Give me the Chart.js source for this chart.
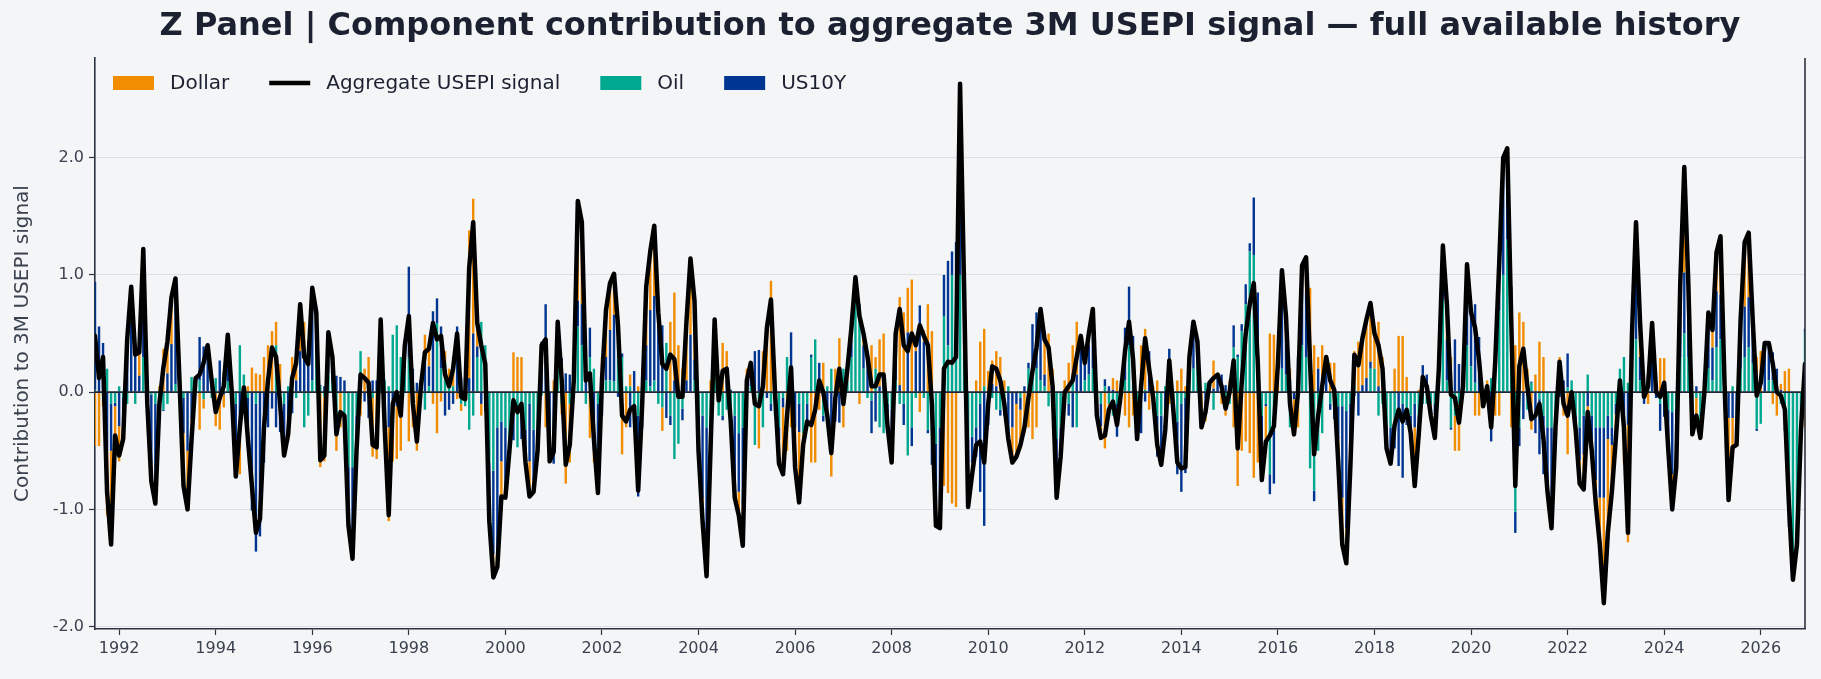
<!DOCTYPE html>
<html>
<head>
<meta charset="utf-8">
<title>Z Panel - USEPI component contributions</title>
<script src="https://cdn.jsdelivr.net/npm/chart.js"></script>
<style>
    html, body { margin: 0; padding: 0; background: #f4f5f7; }
    #panelWrap { width: 1821px; height: 679px; }
</style>
</head>
<body>
<div id="panelWrap"><canvas id="zPanelChart" width="1821" height="679"></canvas></div>
<script>
// Z Panel - component contribution to the aggregate 3M USEPI signal
// monthly history, first observation is June 1991 (one row = 12 months)

const firstMonth = '1991-06';

const aggregateSignal = [
    0.48, 0.12, 0.3, -0.85, -1.3, -0.37, -0.54, -0.4, 0.45, 0.9, 0.32, 0.34,
    1.22, -0.1, -0.76, -0.95, -0.1, 0.21, 0.43, 0.81, 0.97, 0.1, -0.8, -1.0,
    -0.4, 0.12, 0.15, 0.25, 0.4, 0.1, -0.17, -0.05, 0.05, 0.49, 0.0, -0.72,
    -0.3, 0.04, -0.4, -0.8, -1.2, -1.08, -0.3, 0.1, 0.38, 0.3, -0.1, -0.54,
    -0.36, 0.12, 0.25, 0.75, 0.3, 0.24, 0.89, 0.68, -0.58, -0.54, 0.51, 0.3,
    -0.36, -0.17, -0.2, -1.14, -1.42, -0.5, 0.15, 0.12, 0.08, -0.45, -0.47, 0.62,
    -0.3, -1.05, -0.1, 0.0, -0.2, 0.4, 0.65, -0.1, -0.42, 0.05, 0.34, 0.37,
    0.59, 0.45, 0.48, 0.15, 0.05, 0.2, 0.5, -0.04, -0.06, 1.06, 1.45, 0.59,
    0.4, 0.24, -1.1, -1.58, -1.49, -0.89, -0.9, -0.5, -0.07, -0.17, -0.1, -0.6,
    -0.89, -0.85, -0.5, 0.4, 0.45, -0.59, -0.51, 0.6, 0.1, -0.62, -0.45, 0.1,
    1.63, 1.45, 0.1, 0.16, -0.4, -0.86, 0.1, 0.7, 0.93, 1.01, 0.56, -0.2,
    -0.25, -0.15, -0.12, -0.84, -0.1, 0.9, 1.2, 1.42, 0.68, 0.24, 0.2, 0.32,
    0.28, -0.04, -0.04, 0.6, 1.14, 0.78, -0.5, -1.1, -1.57, -0.47, 0.62, -0.07,
    0.18, 0.2, -0.25, -0.9, -1.05, -1.31, 0.1, 0.25, -0.1, -0.12, 0.05, 0.55,
    0.79, 0.0, -0.61, -0.7, -0.2, 0.21, -0.64, -0.94, -0.45, -0.25, -0.28, -0.15,
    0.1, 0.0, -0.2, -0.52, -0.05, 0.2, -0.1, 0.2, 0.55, 0.98, 0.65, 0.5,
    0.3, 0.05, 0.05, 0.15, 0.15, -0.3, -0.6, 0.5, 0.71, 0.4, 0.35, 0.5,
    0.4, 0.57, 0.48, 0.4, -0.1, -1.14, -1.16, 0.2, 0.26, 0.25, 0.3, 2.63,
    0.9, -0.98, -0.7, -0.45, -0.42, -0.6, -0.1, 0.22, 0.2, 0.1, -0.1, -0.4,
    -0.6, -0.55, -0.45, -0.3, -0.05, 0.18, 0.38, 0.71, 0.45, 0.38, 0.05, -0.9,
    -0.55, 0.0, 0.05, 0.1, 0.3, 0.48, 0.25, 0.5, 0.71, -0.2, -0.39, -0.37,
    -0.15, -0.08, -0.28, 0.0, 0.35, 0.6, 0.28, -0.4, 0.05, 0.46, 0.2, -0.05,
    -0.45, -0.62, -0.32, 0.27, -0.15, -0.6, -0.65, -0.64, 0.3, 0.6, 0.43, -0.3,
    -0.17, 0.08, 0.12, 0.15, 0.05, -0.14, 0.0, 0.27, -0.48, 0.08, 0.5, 0.75,
    0.93, 0.25, -0.75, -0.42, -0.37, -0.29, 0.24, 1.04, 0.65, -0.1, -0.36, 0.0,
    1.08, 1.15, 0.24, -0.53, -0.2, 0.05, 0.3, 0.1, 0.02, -0.6, -1.3, -1.46,
    -0.64, 0.32, 0.23, 0.46, 0.62, 0.76, 0.5, 0.4, 0.2, -0.48, -0.61, -0.28,
    -0.15, -0.25, -0.15, -0.35, -0.8, -0.36, 0.13, 0.05, -0.2, -0.39, 0.2, 1.25,
    0.75, -0.02, -0.05, -0.26, 0.05, 1.09, 0.68, 0.55, 0.27, -0.12, 0.05, -0.3,
    0.25, 1.1, 2.0, 2.08, 0.6, -0.8, 0.22, 0.37, 0.05, -0.23, -0.2, -0.1,
    -0.4, -0.85, -1.16, -0.29, 0.26, -0.1, -0.2, 0.0, -0.32, -0.78, -0.83, -0.17,
    -0.5, -0.95, -1.3, -1.8, -1.2, -0.85, -0.39, 0.1, -0.3, -1.2, 0.5, 1.45,
    0.6, -0.04, 0.05, 0.59, 0.0, -0.04, 0.08, -0.48, -1.0, -0.64, 0.93, 1.92,
    0.93, -0.36, -0.2, -0.39, 0.0, 0.68, 0.53, 1.19, 1.33, 0.08, -0.92, -0.47,
    -0.45, 0.62, 1.28, 1.36, 0.62, -0.03, 0.08, 0.42, 0.42, 0.24, 0.0, -0.03,
    -0.15, -0.95, -1.6, -1.3, -0.32, 0.24
];

const dollarContrib = [
    -0.46, -0.46, -0.05, -0.55, -0.8, -0.25, -0.3, -0.15, 0.1, 0.3, 0.1, 0.2,
    0.35, 0.1, -0.15, -0.2, 0.05, 0.37, 0.37, 0.4, 0.2, 0.0, -0.45, -0.5,
    -0.3, 0.0, -0.32, -0.08, 0.05, 0.05, -0.28, -0.32, -0.11, 0.1, 0.0, -0.3,
    -0.4, -0.1, 0.05, 0.21, 0.16, 0.15, 0.3, 0.3, 0.52, 0.2, 0.24, 0.0,
    -0.1, 0.15, 0.2, 0.4, 0.3, 0.1, 0.1, 0.05, -0.64, -0.55, 0.0, 0.05,
    -0.2, -0.3, 0.0, 0.0, 0.0, -0.1, -0.2, 0.2, 0.3, -0.5, -0.57, 0.0,
    -0.3, -0.8, -0.5, -0.45, -0.5, 0.0, -0.42, -0.3, -0.5, 0.0, 0.2, 0.15,
    -0.1, -0.35, -0.08, 0.1, 0.1, 0.25, -0.06, -0.06, 0.0, 1.26, 1.15, 0.2,
    -0.1, 0.0, -0.1, -0.2, -0.15, -0.3, -0.1, 0.0, 0.34, 0.3, 0.3, -0.1,
    -0.3, -0.1, 0.0, 0.0, -0.3, -0.1, 0.1, 0.1, -0.1, -0.78, -0.5, 0.1,
    0.85, 0.7, 0.1, -0.39, -0.1, -0.3, 0.3, 0.4, 0.4, 0.35, 0.0, -0.53,
    -0.3, 0.1, 0.0, 0.05, 0.1, 0.5, 0.5, 0.6, 0.1, -0.2, 0.0, 0.6,
    0.75, 0.4, 0.2, 0.5, 0.65, 0.5, -0.1, -0.2, -0.3, 0.1, 0.15, 0.1,
    0.42, 0.25, -0.12, -0.1, -0.2, -0.35, 0.1, 0.1, 0.0, -0.38, 0.3, 0.6,
    0.95, 0.2, -0.2, -0.57, -0.5, -0.3, -0.34, -0.6, -0.1, 0.0, -0.6, -0.6,
    -0.15, 0.25, -0.1, -0.4, 0.2, 0.46, -0.3, 0.1, 0.1, 0.0, -0.1, 0.1,
    0.1, 0.4, 0.1, 0.4, 0.35, 0.0, -0.1, 0.2, 0.75, 0.68, 0.38, 0.96,
    0.1, -0.17, 0.1, 0.75, 0.52, -0.2, -0.2, -0.8, -0.86, -0.95, -0.98, 0.3,
    0.2, -0.3, -0.1, 0.1, 0.43, 0.49, 0.18, 0.2, 0.3, 0.3, 0.1, -0.1,
    -0.3, -0.45, -0.3, -0.35, -0.3, -0.4, -0.3, 0.1, 0.3, 0.5, 0.2, 0.0,
    0.0, 0.1, 0.25, 0.3, 0.45, 0.1, 0.0, 0.1, 0.1, -0.1, -0.1, -0.48,
    -0.1, 0.1, 0.1, -0.1, -0.2, -0.3, -0.2, 0.0, 0.4, 0.52, -0.15, 0.05,
    0.1, 0.0, 0.0, -0.1, -0.05, 0.1, 0.2, 0.05, 0.1, 0.1, 0.1, -0.3,
    -0.1, 0.0, 0.24, 0.0, -0.1, -0.15, 0.05, -0.3, -0.8, -0.5, -0.42, -0.52,
    -0.73, -0.6, -0.3, -0.3, 0.5, 0.49, 0.24, 0.3, 0.2, 0.1, -0.3, -0.3,
    0.1, 0.3, 0.75, 0.4, 0.1, 0.32, 0.0, 0.25, 0.25, -0.2, -0.4, -0.3,
    -0.2, 0.3, 0.43, 0.4, 0.5, 0.5, 0.3, 0.55, 0.3, 0.0, 0.0, 0.2,
    0.48, 0.48, 0.13, 0.0, -0.5, 0.02, 0.0, 0.0, -0.1, -0.2, 0.0, 0.0,
    0.3, 0.3, -0.3, -0.4, 0.0, 0.1, 0.0, -0.2, -0.2, 0.0, 0.1, 0.0,
    -0.2, -0.2, 0.0, 0.0, -0.3, 0.4, 0.68, 0.6, 0.2, -0.32, 0.15, 0.43,
    0.3, 0.0, -0.1, 0.0, 0.3, -0.2, -0.53, -0.1, 0.0, -0.2, -0.3, -0.2,
    -0.1, -0.2, -0.4, -0.9, -0.8, -0.4, -0.2, -0.1, -0.3, -1.0, 0.1, 0.5,
    0.3, 0.0, -0.1, 0.25, 0.05, 0.29, 0.29, -0.1, -0.3, -0.2, 0.2, 0.9,
    0.3, 0.0, -0.2, -0.1, 0.0, 0.1, 0.15, 0.33, 0.5, 0.1, -0.7, -0.3,
    -0.2, 0.2, 0.55, 0.55, 0.0, 0.3, 0.35, 0.0, 0.0, -0.1, -0.2, 0.05,
    0.18, 0.2, 0.0, 0.0, 0.0, -0.3
];

const oilContrib = [
    0.02, 0.0, -0.07, 0.2, -0.1, -0.09, 0.05, -0.05, -0.1, 0.0, -0.1, 0.0,
    0.3, -0.05, -0.02, -0.1, -0.1, -0.15, -0.1, 0.0, 0.07, 0.05, -0.05, 0.0,
    0.13, 0.0, 0.1, -0.06, 0.0, -0.05, 0.12, 0.0, 0.18, 0.09, 0.05, -0.1,
    0.4, 0.15, -0.05, 0.0, -0.1, 0.0, 0.0, 0.1, 0.0, 0.4, -0.1, -0.1,
    0.05, 0.15, -0.05, 0.0, -0.3, -0.2, 0.1, 0.33, 0.05, -0.04, 0.16, 0.08,
    -0.3, 0.0, -0.3, -0.64, -0.64, -0.2, 0.35, 0.0, -0.05, -0.05, 0.0, 0.5,
    0.1, 0.05, 0.49, 0.57, 0.3, 0.2, 0.3, 0.05, 0.0, -0.05, -0.15, 0.05,
    0.0, 0.59, 0.2, 0.25, 0.1, 0.05, 0.0, -0.1, -0.12, -0.32, -0.2, 0.3,
    0.6, 0.4, -0.6, -0.67, -0.3, -0.25, -0.3, -0.4, -0.1, -0.47, -0.1, -0.32,
    -0.1, -0.32, -0.3, -0.03, 0.0, 0.0, 0.0, 0.2, -0.09, 0.0, -0.1, 0.0,
    0.56, 0.4, -0.1, 0.3, 0.2, -0.1, -0.1, 0.1, 0.1, 0.09, 0.6, 0.3,
    0.05, 0.05, -0.3, -0.2, 0.1, 0.1, 0.05, 0.1, -0.1, -0.13, 0.42, -0.2,
    -0.57, -0.44, -0.14, 0.0, 0.0, 0.1, -0.2, -0.2, -0.3, -0.25, 0.15, -0.2,
    -0.2, -0.15, -0.15, -0.2, -0.35, -0.3, 0.1, 0.05, -0.45, -0.1, -0.3, 0.0,
    -0.1, -0.2, -0.3, -0.05, 0.3, 0.1, 0.0, -0.1, -0.35, -0.1, 0.3, 0.45,
    0.05, -0.2, 0.05, 0.2, 0.0, 0.0, 0.2, 0.1, 0.3, 0.78, 0.7, 0.2,
    -0.05, -0.07, 0.2, -0.3, -0.35, -0.1, -0.15, 0.1, -0.1, -0.1, -0.54, -0.3,
    -0.05, 0.0, -0.05, -0.32, -0.4, -0.44, -0.3, 0.65, 0.4, 1.0, 0.9, 1.0,
    0.4, -0.4, -0.38, -0.3, -0.1, 0.05, 0.0, -0.05, -0.15, -0.15, -0.05, 0.05,
    0.0, 0.0, -0.05, 0.0, 0.2, 0.2, 0.2, 0.1, 0.05, -0.12, -0.15, -0.4,
    -0.3, -0.1, -0.1, 0.1, -0.3, 0.0, 0.1, 0.15, 0.2, -0.07, -0.1, 0.05,
    -0.1, -0.2, -0.1, 0.05, 0.1, 0.4, 0.1, -0.1, -0.05, 0.02, 0.0, 0.0,
    -0.2, -0.2, 0.05, 0.0, -0.1, -0.25, -0.1, -0.05, 0.1, 0.2, 0.3, 0.0,
    0.08, 0.0, -0.15, 0.0, 0.0, -0.05, -0.1, 0.38, 0.3, 0.52, 0.75, 1.2,
    1.17, 0.3, -0.2, -0.1, -0.7, -0.2, 0.0, 0.2, 0.15, -0.3, 0.0, 0.2,
    0.4, 0.3, -0.65, -0.84, -0.5, -0.35, 0.0, -0.1, -0.15, -0.12, -0.12, -0.16,
    -0.1, 0.05, 0.0, 0.0, 0.0, 0.2, 0.2, -0.2, -0.1, -0.28, -0.3, -0.28,
    0.0, -0.1, -0.2, -0.2, -0.1, -0.2, -0.1, -0.1, -0.1, -0.1, 0.1, 0.78,
    0.1, -0.3, -0.2, -0.1, 0.0, 0.4, 0.22, 0.08, 0.0, 0.0, -0.05, 0.12,
    0.2, 0.7, 1.0, 1.3, 0.5, -1.02, -0.3, 0.0, -0.15, 0.08, 0.0, -0.06,
    -0.2, -0.3, -0.3, -0.3, 0.0, 0.0, 0.04, 0.1, -0.2, -0.3, -0.2, 0.15,
    -0.2, -0.3, -0.3, -0.3, -0.2, -0.3, -0.1, 0.2, 0.3, 0.08, 0.2, 0.45,
    0.1, 0.06, 0.1, 0.0, 0.0, -0.1, -0.05, -0.15, -0.17, -0.14, 0.3, 0.5,
    0.3, -0.17, -0.05, -0.3, 0.05, 0.2, 0.1, 0.38, 0.45, 0.1, 0.0, 0.05,
    0.0, 0.2, 0.3, 0.38, 0.25, -0.31, -0.27, 0.0, 0.1, 0.1, 0.0, -0.1,
    -0.3, -1.0, -1.35, -1.1, -0.32, 0.51
];

const us10yContrib = [
    0.92, 0.56, 0.42, -0.5, -0.4, -0.03, -0.29, -0.2, 0.45, 0.6, 0.32, 0.14,
    0.57, -0.15, -0.59, -0.65, -0.05, -0.01, 0.16, 0.41, 0.7, 0.05, -0.3, -0.5,
    -0.23, 0.12, 0.37, 0.39, 0.35, 0.1, -0.01, 0.27, -0.02, 0.3, -0.05, -0.32,
    -0.3, -0.01, -0.4, -1.01, -1.26, -1.23, -0.6, -0.3, -0.14, -0.3, -0.24, -0.44,
    -0.31, -0.18, 0.1, 0.35, 0.3, 0.34, 0.69, 0.3, 0.01, 0.05, 0.35, 0.17,
    0.14, 0.13, 0.1, -0.5, -0.78, -0.2, 0.0, -0.08, -0.17, 0.1, 0.1, 0.12,
    -0.1, -0.3, -0.09, -0.12, 0.0, 0.2, 0.77, 0.15, 0.08, 0.1, 0.29, 0.17,
    0.69, 0.21, 0.36, -0.2, -0.15, -0.1, 0.56, 0.12, 0.06, 0.12, 0.5, 0.09,
    -0.1, -0.16, -0.4, -0.71, -1.04, -0.34, -0.5, -0.1, -0.31, 0.0, -0.3, -0.18,
    -0.49, -0.43, -0.2, 0.43, 0.75, -0.49, -0.61, 0.3, 0.29, 0.16, 0.15, 0.0,
    0.22, 0.35, 0.1, 0.25, -0.5, -0.46, -0.1, 0.2, 0.43, 0.57, -0.04, 0.03,
    0.0, -0.3, 0.18, -0.69, -0.3, 0.3, 0.65, 0.72, 0.68, 0.57, -0.22, -0.08,
    0.1, 0.0, -0.1, 0.1, 0.49, 0.18, -0.2, -0.7, -0.97, -0.32, 0.32, 0.03,
    -0.04, 0.1, 0.02, -0.6, -0.5, -0.66, -0.1, 0.1, 0.35, 0.36, 0.05, -0.05,
    -0.06, 0.0, -0.11, -0.08, 0.0, 0.41, -0.3, -0.24, 0.0, -0.15, 0.02, 0.0,
    0.2, -0.05, -0.15, -0.32, -0.25, -0.26, 0.0, 0.0, 0.15, 0.2, 0.05, 0.2,
    0.25, -0.28, -0.25, 0.05, 0.15, -0.2, -0.35, 0.2, 0.06, -0.18, 0.51, -0.16,
    0.35, 0.74, 0.43, -0.03, -0.22, -0.5, -0.66, 0.35, 0.72, 0.2, 0.38, 1.33,
    0.3, -0.28, -0.22, -0.25, -0.75, -1.14, -0.28, 0.07, 0.05, -0.05, -0.15, -0.35,
    -0.3, -0.1, -0.1, 0.05, 0.05, 0.38, 0.48, 0.51, 0.1, 0.0, 0.0, -0.5,
    -0.25, 0.0, -0.1, -0.3, 0.15, 0.38, 0.15, 0.25, 0.41, -0.03, -0.19, 0.06,
    0.05, 0.02, -0.28, 0.05, 0.45, 0.5, 0.38, -0.3, -0.3, -0.08, 0.35, -0.1,
    -0.35, -0.42, -0.37, 0.37, 0.0, -0.45, -0.75, -0.64, 0.1, 0.3, 0.03, 0.0,
    -0.15, 0.08, 0.03, 0.15, 0.15, 0.06, 0.05, 0.19, 0.02, 0.06, 0.17, 0.07,
    0.49, 0.55, -0.25, -0.02, -0.17, -0.58, 0.0, 0.54, 0.3, 0.1, -0.06, 0.1,
    0.58, 0.55, 0.14, -0.09, 0.2, 0.08, 0.3, -0.05, -0.08, -0.28, -0.78, -1.0,
    -0.34, -0.03, -0.2, 0.06, 0.12, 0.06, 0.0, 0.05, 0.0, -0.2, -0.31, -0.2,
    -0.63, -0.63, -0.08, -0.15, -0.2, -0.18, 0.23, 0.15, 0.0, -0.09, 0.1, 0.47,
    0.35, -0.02, 0.45, 0.24, 0.05, 0.59, 0.46, 0.67, 0.47, -0.12, 0.0, -0.42,
    0.25, 0.6, 1.0, 0.78, 0.4, -0.18, -0.16, -0.23, 0.0, 0.01, -0.35, -0.47,
    -0.5, -0.55, -0.76, 0.01, -0.04, 0.1, 0.29, 0.0, -0.12, -0.28, -0.33, -0.12,
    -0.2, -0.45, -0.6, -0.6, -0.2, -0.15, -0.09, 0.0, -0.3, -0.28, 0.2, 0.5,
    0.2, -0.1, 0.05, 0.34, -0.05, -0.23, -0.16, -0.23, -0.53, -0.3, 0.43, 0.52,
    0.33, -0.19, 0.05, 0.01, -0.05, 0.38, 0.28, 0.48, 0.38, -0.12, -0.22, -0.22,
    -0.25, 0.22, 0.43, 0.43, 0.37, -0.02, 0.0, 0.42, 0.32, 0.24, 0.2, 0.02,
    -0.03, -0.15, -0.25, -0.2, 0.0, 0.03
];

// axis ticks
const yearTicks = [1992, 1994, 1996, 1998, 2000, 2002, 2004, 2006, 2008, 2010,
                   2012, 2014, 2016, 2018, 2020, 2022, 2024, 2026];
const signalTicks = [-2, -1, 0, 1, 2];

const legendOrder = ['Dollar', 'Aggregate USEPI signal', 'Oil', 'US10Y'];

const titleText = 'Z Panel | Component contribution to aggregate 3M USEPI signal \u2014 full available history';

const colors = {
    dollar: '#f28c00',
    oil: '#00a88f',
    us10y: '#003591',
    aggregate: '#000000',
    spine: '#2b3240',
    grid: '#dcdfe4',
    text: '#3a4250',
    title: '#1b2130'
};

// month labels and their position in decimal years (month end)
const months = aggregateSignal.map(function(_, i) {
    const start = firstMonth.split('-').map(Number);
    const m = start[1] - 1 + i;
    return (start[0] + Math.floor(m / 12)) + '-' + String(m % 12 + 1).padStart(2, '0');
});

function monthToYear(label) {
    const parts = label.split('-').map(Number);
    return parts[0] + parts[1] / 12;
}

function toPoints(values) {
    return values.map(function(v, i) {
        return { x: monthToYear(months[i]), y: v };
    });
}

Chart.defaults.font.family = '"DejaVu Sans", Verdana, sans-serif';
Chart.defaults.color = colors.text;

// title, custom legend, right spine and zero line
const panelDecor = {
    id: 'panelDecor',
    afterDatasetDraw: function(chart, args) {
        // zero line sits above the bars, below the aggregate line
        if (args.index !== 1) return;
        const ctx = chart.ctx;
        const y0 = chart.scales.y.getPixelForValue(0);
        ctx.save();
        ctx.strokeStyle = '#1e2533';
        ctx.lineWidth = 1.8;
        ctx.beginPath();
        ctx.moveTo(chart.chartArea.left, y0);
        ctx.lineTo(chart.chartArea.right, y0);
        ctx.stroke();
        ctx.restore();
    },
    afterDraw: function(chart) {
        const ctx = chart.ctx;
        const area = chart.chartArea;
        ctx.save();

        // right spine
        ctx.strokeStyle = colors.spine;
        ctx.lineWidth = 1.6;
        ctx.beginPath();
        ctx.moveTo(area.right, area.top);
        ctx.lineTo(area.right, area.bottom);
        ctx.stroke();

        // title
        ctx.fillStyle = colors.title;
        ctx.font = 'bold 32px "DejaVu Sans"';
        ctx.textAlign = 'center';
        ctx.textBaseline = 'middle';
        ctx.fillText(titleText, (area.left + area.right) / 2, 27);

        // legend inside the plot, top left
        ctx.font = '20px "DejaVu Sans"';
        ctx.textAlign = 'left';
        let x = area.left + 18;
        const yMid = 83;
        legendOrder.forEach(function(label) {
            const ds = chart.data.datasets.find(function(d) { return d.label === label; });
            if (ds.type === 'line') {
                ctx.strokeStyle = ds.borderColor;
                ctx.lineWidth = 4.5;
                ctx.beginPath();
                ctx.moveTo(x, yMid);
                ctx.lineTo(x + 41, yMid);
                ctx.stroke();
            } else {
                ctx.fillStyle = ds.backgroundColor;
                ctx.fillRect(x, yMid - 7, 41, 14);
            }
            x += 41 + 16;
            ctx.fillStyle = '#1b2130';
            ctx.fillText(label, x, yMid + 1);
            x += ctx.measureText(label).width + 40;
        });

        ctx.restore();
    }
};

const xMin = monthToYear(months[0]);
const xMax = monthToYear(months[months.length - 1]);

const barDefaults = {
    type: 'bar',
    stack: 'components',
    order: 1,
    barPercentage: 0.6,
    categoryPercentage: 1.0,
    borderWidth: 0
};

const zChart = new Chart(document.getElementById('zPanelChart').getContext('2d'), {
    type: 'bar',
    data: {
        datasets: [
            {
                type: 'line',
                label: 'Aggregate USEPI signal',
                data: toPoints(aggregateSignal),
                borderColor: colors.aggregate,
                backgroundColor: colors.aggregate,
                borderWidth: 4.5,
                borderJoinStyle: 'round',
                borderCapStyle: 'round',
                pointRadius: 0,
                tension: 0,
                stack: 'aggregate',
                order: 0
            },
            Object.assign({}, barDefaults, {
                label: 'Oil',
                data: toPoints(oilContrib),
                backgroundColor: colors.oil
            }),
            Object.assign({}, barDefaults, {
                label: 'US10Y',
                data: toPoints(us10yContrib),
                backgroundColor: colors.us10y
            }),
            Object.assign({}, barDefaults, {
                label: 'Dollar',
                data: toPoints(dollarContrib),
                backgroundColor: colors.dollar
            })
        ]
    },
    options: {
        responsive: false,
        devicePixelRatio: 1,
        animation: false,
        layout: {
            padding: { top: 58, right: 16, bottom: 0, left: 0 }
        },
        plugins: {
            legend: { display: false },
            title: { display: false },
            tooltip: { enabled: false }
        },
        scales: {
            x: {
                type: 'linear',
                min: xMin,
                max: xMax,
                offset: false,
                stacked: true,
                afterBuildTicks: function(scale) {
                    scale.ticks = yearTicks.map(function(v) { return { value: v }; });
                },
                afterFit: function(scale) { scale.height = 50; },
                ticks: {
                    autoSkip: false,
                    maxRotation: 0,
                    padding: 4,
                    color: colors.text,
                    font: { size: 16 },
                    callback: function(value) { return String(value); }
                },
                grid: {
                    drawOnChartArea: false,
                    offset: false,
                    tickLength: 6,
                    tickColor: colors.spine,
                    tickWidth: 1.2
                },
                border: { color: colors.spine, width: 1.6 }
            },
            y: {
                min: -2.02,
                max: 2.85,
                stacked: true,
                afterBuildTicks: function(scale) {
                    scale.ticks = signalTicks.map(function(v) { return { value: v }; });
                },
                afterFit: function(scale) { scale.width = 95; },
                ticks: {
                    padding: 5,
                    color: colors.text,
                    font: { size: 16 },
                    callback: function(value) { return value.toFixed(1); }
                },
                grid: {
                    color: function(ctx) {
                        return ctx.tick && ctx.tick.value === 0 ? 'rgba(0,0,0,0)' : colors.grid;
                    },
                    lineWidth: 1,
                    tickLength: 6,
                    tickColor: colors.spine,
                    tickWidth: 1.2
                },
                border: { color: colors.spine, width: 1.6 },
                title: {
                    display: true,
                    text: 'Contribution to 3M USEPI signal',
                    color: colors.text,
                    font: { size: 20 },
                    padding: { top: 11, bottom: 0 }
                }
            }
        }
    },
    plugins: [panelDecor]
});
</script>
</body>
</html>
